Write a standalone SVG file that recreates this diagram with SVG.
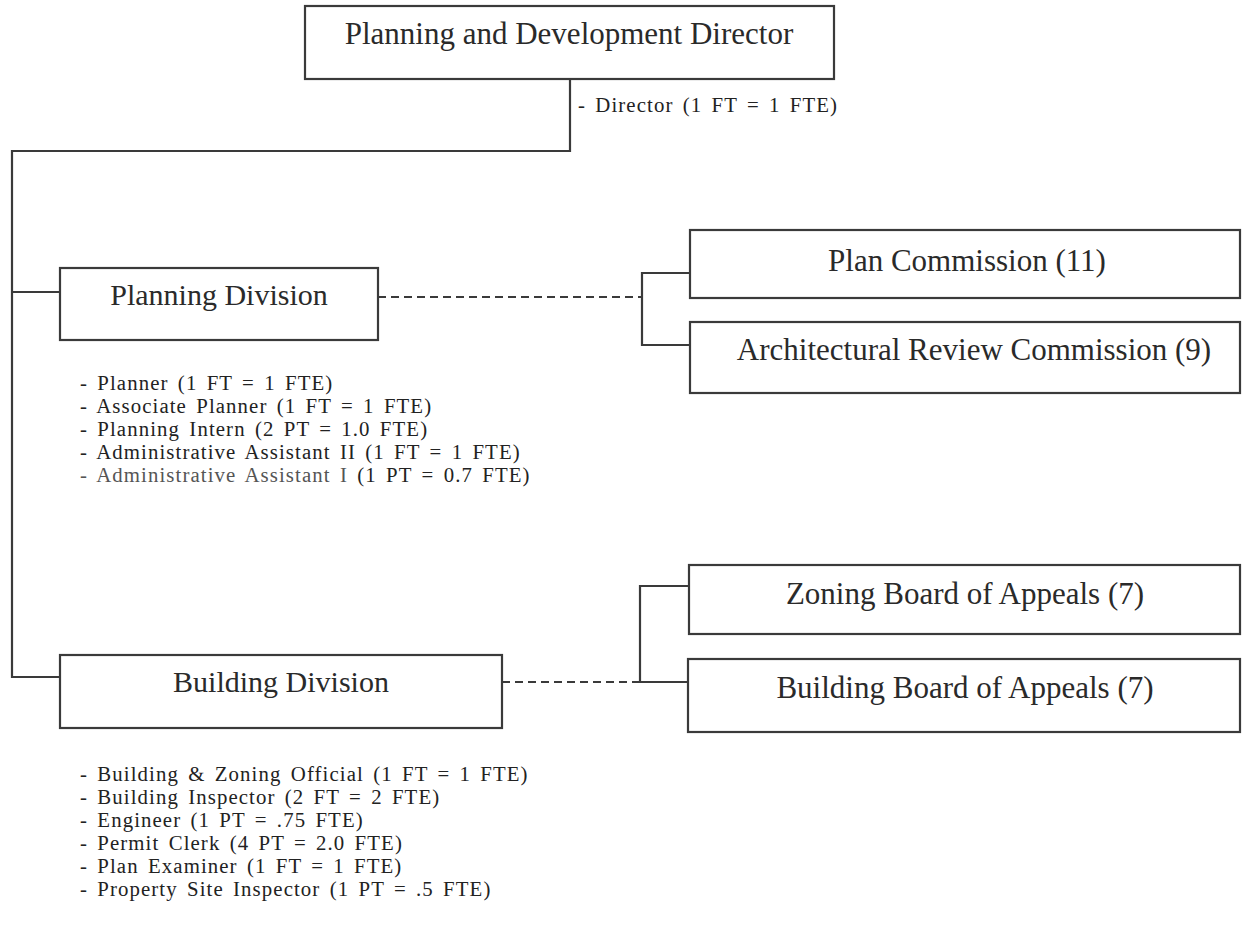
<svg xmlns="http://www.w3.org/2000/svg" width="1247" height="944" viewBox="0 0 1247 944">
<style>
.box{fill:#fff;stroke:#3a3a3a;stroke-width:2.2}
.ln{fill:none;stroke:#3a3a3a;stroke-width:2.2}
.dash{fill:none;stroke:#3a3a3a;stroke-width:2.2;stroke-dasharray:8 5}
.lbl{font-family:"Liberation Serif","Times New Roman",serif;font-size:30px;fill:#2a2a2a;text-anchor:middle}
.lst{font-family:"Liberation Serif","Times New Roman",serif;font-size:20.8px;letter-spacing:1.1px;word-spacing:3px;fill:#222}
.lt{fill:#555}
</style>
<rect width="1247" height="944" fill="#fff"/>
<g id="connectors">
<polyline class="ln" points="570,79 570,151 12,151 12,677 60,677"/>
<line class="ln" x1="12" y1="292" x2="60" y2="292"/>
<line class="dash" x1="378" y1="297" x2="642" y2="297"/>
<polyline class="ln" points="690,273 642,273 642,345 690,345"/>
<line class="dash" x1="502" y1="682" x2="640" y2="682"/>
<polyline class="ln" points="689,586 640,586 640,682 688,682"/>
</g>
<g id="director">
<rect class="box" x="305" y="6" width="529" height="73"/>
<text class="lbl" x="569" y="44" style="font-size:31px">Planning and Development Director</text>
<text class="lst" x="578" y="112">- Director (1 FT = 1 FTE)</text>
</g>
<g id="planning">
<rect class="box" x="60" y="268" width="318" height="72"/>
<text class="lbl" x="219" y="305">Planning Division</text>
<text class="lst" x="80" y="390">- Planner (1 FT = 1 FTE)</text>
<text class="lst" x="80" y="413">- Associate Planner (1 FT = 1 FTE)</text>
<text class="lst" x="80" y="436">- Planning Intern (2 PT = 1.0 FTE)</text>
<text class="lst" x="80" y="459">- Administrative Assistant II (1 FT = 1 FTE)</text>
<text class="lst" x="80" y="482"><tspan class="lt">- Administrative Assistant I</tspan> (1 PT = 0.7 FTE)</text>
</g>
<g id="plan-commission">
<rect class="box" x="690" y="230" width="550" height="68"/>
<text class="lbl" x="967" y="271" style="font-size:31px">Plan Commission (11)</text>
</g>
<g id="arc">
<rect class="box" x="690" y="322" width="550" height="71"/>
<text class="lbl" x="974" y="360" style="font-size:31px">Architectural Review Commission (9)</text>
</g>
<g id="building">
<rect class="box" x="60" y="655" width="442" height="73"/>
<text class="lbl" x="281" y="692">Building Division</text>
<text class="lst" x="80" y="781">- Building &amp; Zoning Official (1 FT = 1 FTE)</text>
<text class="lst" x="80" y="804">- Building Inspector (2 FT = 2 FTE)</text>
<text class="lst" x="80" y="827">- Engineer (1 PT = .75 FTE)</text>
<text class="lst" x="80" y="850">- Permit Clerk (4 PT = 2.0 FTE)</text>
<text class="lst" x="80" y="873">- Plan Examiner (1 FT = 1 FTE)</text>
<text class="lst" x="80" y="896">- Property Site Inspector (1 PT = .5 FTE)</text>
</g>
<g id="zba">
<rect class="box" x="689" y="565" width="551" height="69"/>
<text class="lbl" x="965" y="604" style="font-size:31px">Zoning Board of Appeals (7)</text>
</g>
<g id="bba">
<rect class="box" x="688" y="659" width="552" height="73"/>
<text class="lbl" x="965" y="698" style="font-size:31px">Building Board of Appeals (7)</text>
</g>
</svg>
